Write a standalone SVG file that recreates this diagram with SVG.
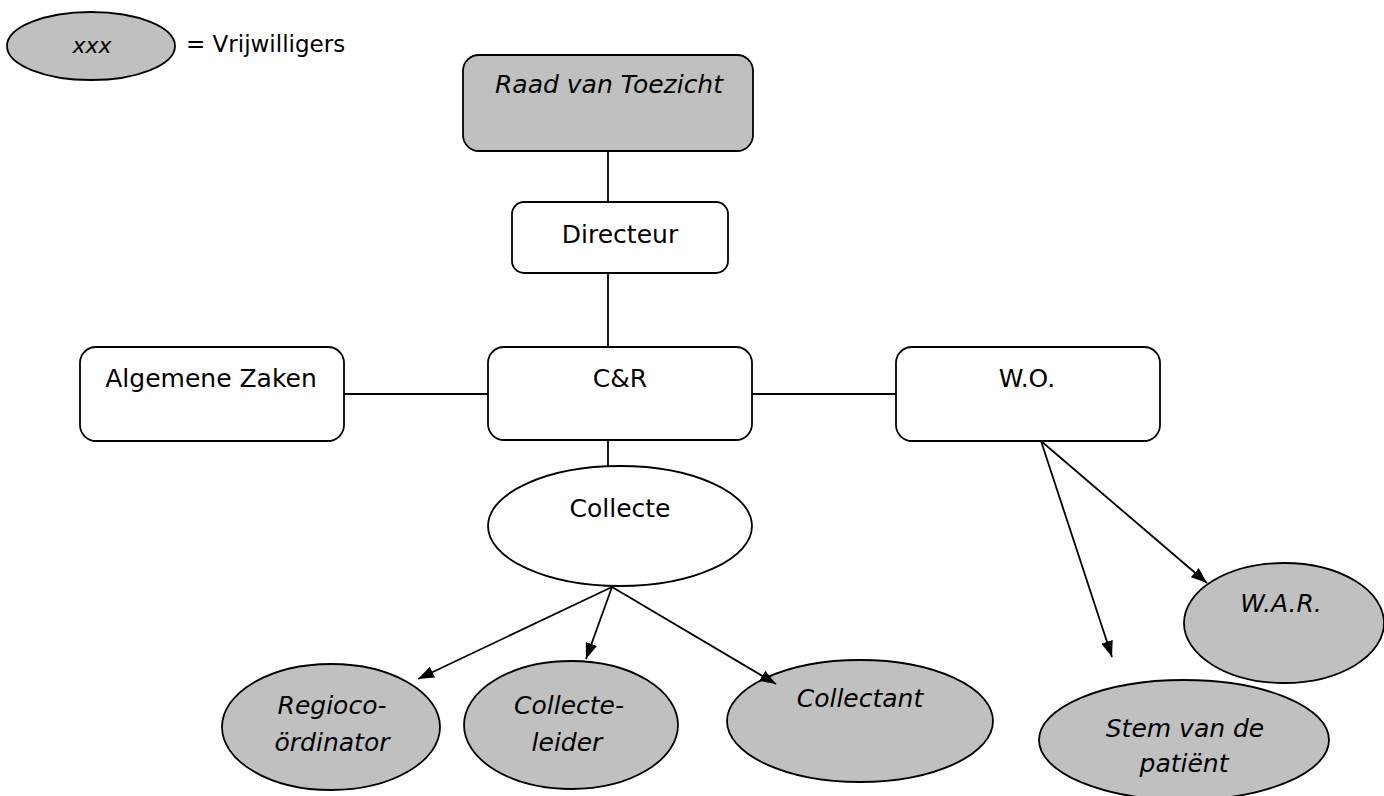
<svg xmlns="http://www.w3.org/2000/svg" width="1384" height="796" viewBox="0 0 1384 796">
<style>
.n{stroke:#000;stroke-width:1.8;fill:#fff}
.g{fill:#c0c0c0}
.t{font-family:"DejaVu Sans",Verdana,sans-serif;font-size:25px;fill:#000;text-anchor:middle}
.i{font-style:italic}
.c{stroke:#000;stroke-width:1.8;fill:none}
.a{marker-end:url(#arr)}
</style>
<defs>
<marker id="arr" viewBox="0 0 16 12" refX="16" refY="6" markerWidth="16" markerHeight="12" markerUnits="userSpaceOnUse" orient="auto">
<path d="M0,0 L16,6 L0,12 z" fill="#000"/>
</marker>
</defs>
<rect width="1384" height="796" fill="#fff"/>
<g id="legend">
<ellipse class="n g" cx="91" cy="46" rx="84" ry="34"/>
<text class="t i" x="92" y="53" style="font-size:22px">xxx</text>
<text class="t" x="186" y="52" style="text-anchor:start;font-size:23px">= Vrijwilligers</text>
</g>
<g id="raad">
<rect class="n g" x="463" y="55" width="290" height="96" rx="16"/>
<text class="t i" x="609" y="93">Raad van Toezicht</text>
</g>
<g id="directeur">
<rect class="n" x="512" y="202" width="216" height="71" rx="12"/>
<text class="t" x="620" y="243">Directeur</text>
</g>
<g id="algemene">
<rect class="n" x="80" y="347" width="264" height="94" rx="16"/>
<text class="t" x="211" y="387">Algemene Zaken</text>
</g>
<g id="cr">
<rect class="n" x="488" y="347" width="264" height="93" rx="16"/>
<text class="t" x="620" y="387">C&amp;R</text>
</g>
<g id="wo">
<rect class="n" x="896" y="347" width="264" height="94" rx="16"/>
<text class="t" x="1027" y="387">W.O.</text>
</g>
<g id="collecte">
<ellipse class="n" cx="620" cy="526" rx="132" ry="60"/>
<text class="t" x="620" y="517">Collecte</text>
</g>
<g id="regio">
<ellipse class="n g" cx="331" cy="727" rx="109" ry="63"/>
<text class="t i" x="332" y="714">Regioco-</text>
<text class="t i" x="332" y="751">ördinator</text>
</g>
<g id="collecteleider">
<ellipse class="n g" cx="571" cy="725" rx="107" ry="64"/>
<text class="t i" x="569" y="714">Collecte-</text>
<text class="t i" x="567" y="751">leider</text>
</g>
<g id="collectant">
<ellipse class="n g" cx="860" cy="721" rx="133" ry="61"/>
<text class="t i" x="860" y="707">Collectant</text>
</g>
<g id="war">
<ellipse class="n g" cx="1284" cy="623" rx="100" ry="60"/>
<text class="t i" x="1281" y="612">W.A.R.</text>
</g>
<g id="stem">
<ellipse class="n g" cx="1184" cy="740" rx="145" ry="60"/>
<text class="t i" x="1185" y="737">Stem van de</text>
<text class="t i" x="1184" y="772">patiënt</text>
</g>
<g id="connectors">
<line class="c" x1="608" y1="151" x2="608" y2="202"/>
<line class="c" x1="608" y1="273" x2="608" y2="347"/>
<line class="c" x1="344" y1="394" x2="488" y2="394"/>
<line class="c" x1="752" y1="394" x2="896" y2="394"/>
<line class="c" x1="608" y1="440" x2="608" y2="466"/>
<line class="c a" x1="612" y1="587" x2="418" y2="679"/>
<line class="c a" x1="612" y1="587" x2="586" y2="659"/>
<line class="c a" x1="612" y1="587" x2="776" y2="684"/>
<line class="c a" x1="1041" y1="441" x2="1112" y2="657"/>
<line class="c a" x1="1041" y1="441" x2="1207" y2="583"/>
</g>
</svg>
